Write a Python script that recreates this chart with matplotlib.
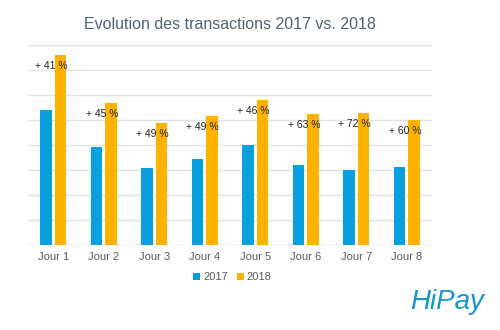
import matplotlib.pyplot as plt
import numpy as np

plt.rcParams['font.family'] = ['Liberation Sans', 'DejaVu Sans']

jours = ['Jour 1', 'Jour 2', 'Jour 3', 'Jour 4', 'Jour 5', 'Jour 6', 'Jour 7', 'Jour 8']
val_2017 = [5.4, 3.9, 3.07, 3.44, 4.0, 3.2, 3.0, 3.13]
val_2018 = [7.6, 5.67, 4.89, 5.15, 5.8, 5.23, 5.28, 5.0]
evolution = ['+ 41 %', '+ 45 %', '+ 49 %', '+ 49 %', '+ 46 %', '+ 63 %', '+ 72 %', '+ 60 %']

bleu = '#0aa0e0'
orange = '#ffb300'

fig = plt.figure(figsize=(5, 3.3), dpi=100)
ax = fig.add_axes([0.056, 0.258, 0.808, 0.606])

x = np.arange(len(jours))
w = 0.23
ax.bar(x - 0.14, val_2017, w, color=bleu, label='2017', zorder=3)
ax.bar(x + 0.14, val_2018, w, color=orange, label='2018', zorder=3)

# etiquettes d'evolution a gauche du haut des barres 2018
for xi, v, txt in zip(x, val_2018, evolution):
    ax.annotate(txt, (xi + 0.14 + w / 2, v), xytext=(1, -8), textcoords='offset points',
                ha='right', va='center', fontsize=7.5, color='#222222', zorder=4)

ax.set_xlim(-0.5, len(jours) - 0.5)
ax.set_ylim(0, 8)
ax.set_yticks(np.arange(0, 9, 1))
ax.set_yticklabels([])
ax.tick_params(axis='y', length=0)
ax.tick_params(axis='x', length=0, labelsize=8, labelcolor='#5a5a5a', pad=5)
ax.set_xticks(x)
ax.set_xticklabels(jours)
ax.grid(axis='y', color='#e2e2e2', linewidth=1, zorder=0)
for s in ax.spines.values():
    s.set_visible(False)
ax.axhline(0, color='#dcdcdc', linewidth=1, zorder=1)

fig.text(0.46, 0.925, 'Evolution des transactions 2017 vs. 2018', ha='center', va='center',
         fontsize=11.5, color='#4f6470')

fig.legend(loc='center', bbox_to_anchor=(0.465, 0.16), ncol=2, frameon=False, fontsize=8,
           handlelength=0.6, handleheight=0.6, handletextpad=0.3, columnspacing=0.8,
           labelcolor='#5a5a5a')

fig.text(0.895, 0.085, 'HiPay', ha='center', va='center', fontsize=20, fontstyle='italic',
         color='#1496c8')

fig.savefig('out.png', dpi=100)
